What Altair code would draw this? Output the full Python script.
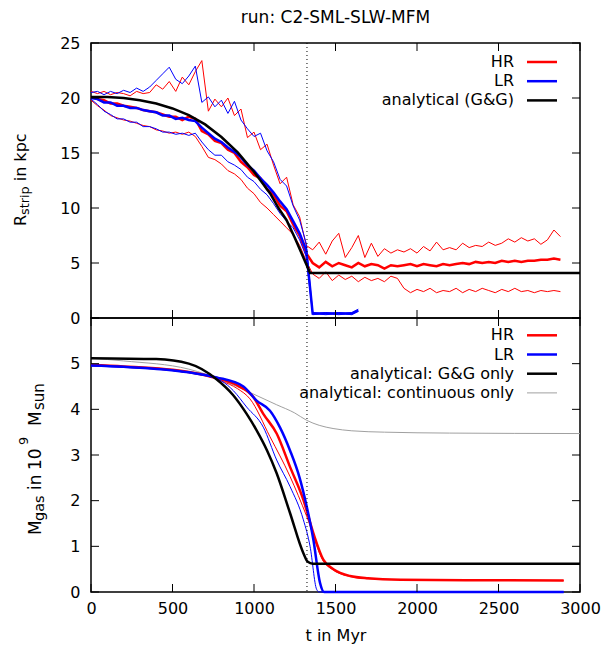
import altair as alt
import pandas as pd

FONT = "DejaVu Sans"
TITLE = "run: C2-SML-SLW-MFM"
X_TITLE = "t in Myr"
X_TICKS = [0, 500, 1000, 1500, 2000, 2500, 3000]
R_TICKS = [0, 5, 10, 15, 20, 25]
M_TICKS = [0, 1, 2, 3, 4, 5]
M_TICK_MARKS = [0, 1, 2, 3, 4, 5, 6]
T_CRIT = [1325]

# ---- top panel: stripping radius (kpc) ----
T_PRE = list(range(0, 1321, 40))
T_POST_HR = list(range(1360, 2881, 40))
T_POST_LR = list(range(1360, 1641, 40))

HR_UP_PRE = [20.6, 20.4, 20.6, 20.3, 20.5, 20.4, 20.2, 20.6, 20.4, 20.5,
             21.2, 20.8, 21.5, 20.6, 21.9, 21.2, 22.4, 23.4, 18.8, 19.9,
             19.2, 20.0, 18.4, 19.0, 16.4, 16.9, 15.3, 15.8, 13.9, 12.2,
             12.8, 10.3, 9.2, 6.6]
HR_MID_PRE = [20.1, 19.9, 19.8, 19.5, 19.5, 19.3, 19.2, 19.1, 18.9, 18.8,
              18.7, 18.5, 18.3, 18.3, 18.0, 18.3, 18.1, 17.0, 16.7, 16.1,
              15.9, 15.3, 15.0, 14.2, 13.7, 13.0, 12.7, 11.7, 11.2, 10.2,
              9.7, 8.5, 7.5, 5.9]
HR_LOW_PRE = [19.8, 19.3, 18.9, 18.4, 18.2, 18.0, 17.9, 17.7, 17.5, 17.4,
              17.1, 17.0, 16.8, 16.9, 16.7, 16.9, 16.5, 15.6, 14.6, 14.4,
              14.0, 13.4, 13.1, 12.6, 11.8, 11.3, 10.5, 10.0, 9.4, 8.8,
              8.2, 7.6, 6.6, 5.2]
HR_UP_POST = [6.2, 6.9, 5.8, 7.0, 7.7, 5.5, 6.4, 7.5, 5.5, 6.8,
              5.6, 6.3, 5.9, 6.2, 6.0, 6.3, 5.9, 6.5, 6.1, 6.9,
              6.2, 6.4, 6.2, 6.8, 6.4, 6.6, 6.5, 6.9, 6.6, 6.8,
              7.2, 6.9, 7.3, 7.0, 7.2, 6.7, 7.1, 8.0, 7.4]
HR_MID_POST = [5.0, 4.6, 5.1, 4.7, 5.0, 4.8, 4.6, 5.0, 4.7, 4.9,
               4.8, 4.5, 4.8, 4.7, 4.8, 4.9, 4.7, 4.9, 4.8, 4.7,
               4.9, 4.8, 4.9, 5.0, 4.9, 5.1, 5.0, 5.1, 5.0, 5.2,
               5.1, 5.2, 5.1, 5.2, 5.2, 5.3, 5.3, 5.4, 5.3]
HR_LOW_POST = [4.0, 3.6, 4.2, 3.4, 3.9, 3.5, 3.8, 3.3, 3.7, 3.4,
               3.6, 3.3, 3.8, 3.6, 2.7, 2.3, 2.6, 2.4, 2.7, 2.3,
               2.5, 2.4, 2.7, 2.3, 2.6, 2.4, 2.7, 2.5, 2.3, 2.6,
               2.4, 2.7, 2.4, 2.5, 2.3, 2.5, 2.4, 2.5, 2.4]

LR_UP_PRE = [20.5, 20.6, 20.3, 20.6, 20.4, 20.7, 20.5, 20.9, 20.6, 21.0,
             21.6, 22.2, 22.8, 21.7, 21.3, 22.0, 22.9, 19.6, 20.1, 19.2,
             19.8, 18.6, 19.7, 18.0, 17.2, 16.5, 16.8, 15.2, 14.2, 12.6,
             12.0, 10.2, 8.9, 6.8]
LR_MID_PRE = [20.0, 19.9, 19.6, 19.6, 19.3, 19.3, 19.1, 19.1, 18.9, 18.8,
              18.7, 18.4, 18.4, 18.1, 18.2, 18.0, 17.9, 17.3, 16.8, 16.3,
              16.0, 15.5, 15.1, 14.6, 13.9, 13.4, 12.7, 12.1, 11.4, 10.6,
              9.9, 8.8, 7.7, 6.2]
LR_LOW_PRE = [19.9, 19.4, 18.8, 18.5, 18.1, 18.1, 17.8, 17.8, 17.4, 17.4,
              17.2, 16.9, 16.9, 16.7, 16.8, 16.6, 16.8, 16.0, 15.3, 14.8,
              14.8, 14.2, 13.9, 13.5, 12.8, 12.4, 11.7, 11.2, 10.4, 9.5,
              8.8, 8.2, 7.1, 5.6]
LR_UP_POST = [0.5, 0.45, 0.5, 0.45, 0.5, 0.45, 0.5, 0.8]
LR_MID_POST = [0.4, 0.4, 0.4, 0.4, 0.4, 0.4, 0.4, 0.7]
LR_LOW_POST = [0.3, 0.35, 0.3, 0.35, 0.3, 0.35, 0.3, 0.6]

GG_T = [0, 100, 200, 300, 400, 500, 600, 700, 800, 900, 1000, 1100, 1150,
        1200, 1250, 1300, 1344, 3000]
GG_R = [20.1, 20.1, 20.0, 19.8, 19.5, 19.05, 18.45, 17.6, 16.45, 15.05, 13.3,
        11.3, 10.0, 8.9, 7.3, 5.6, 4.1, 4.1]

# ---- bottom panel: gas mass (1e9 Msun) ----
MG_GG_T = [0, 400, 600, 770, 870, 955, 1016, 1080, 1139, 1221, 1303, 1330, 1360, 3000]
MG_GG_M = [5.12, 5.10, 5.0, 4.66, 4.32, 3.9, 3.54, 3.1, 2.6, 1.73, 0.85, 0.66, 0.62, 0.62]
MG_CONT_T = [0, 200, 600, 810, 975, 1139, 1250, 1323, 1400, 1485, 1600, 1800, 2200, 3000]
MG_CONT_M = [5.12, 5.06, 4.88, 4.63, 4.37, 4.10, 3.92, 3.76, 3.65, 3.58, 3.53, 3.50, 3.48, 3.47]
MG_LR_T = [0, 200, 600, 770, 935, 1016, 1098, 1160, 1221, 1280, 1323, 1364, 1405, 1430, 2900]
MG_LR_M = [4.96, 4.93, 4.81, 4.70, 4.50, 4.19, 3.97, 3.6, 3.1, 2.5, 1.88, 1.15, 0.2, 0.0, 0.0]
MG_LR2_T = [0, 200, 600, 800, 873, 955, 1057, 1139, 1221, 1303, 1344, 1384, 1400, 2900]
MG_LR2_M = [4.95, 4.92, 4.80, 4.62, 4.41, 4.05, 3.61, 2.89, 2.31, 1.58, 1.0, 0.06, 0.0, 0.0]
MG_HR_T = [0, 200, 600, 800, 900, 996, 1057, 1139, 1221, 1303, 1364, 1425, 1487, 1589,
           1700, 1900, 2300, 2900]
MG_HR_M = [4.97, 4.94, 4.82, 4.66, 4.52, 4.27, 3.9, 3.47, 2.74, 2.02, 1.29, 0.71, 0.5, 0.35,
           0.3, 0.27, 0.26, 0.25]
MG_HR2_T = [0, 200, 600, 800, 900, 975, 1098, 1221, 1323, 1425, 1487, 1589, 1700, 1900,
            2300, 2900]
MG_HR2_M = [4.96, 4.93, 4.80, 4.62, 4.45, 4.23, 3.4, 2.53, 1.66, 0.68, 0.48, 0.34, 0.29,
            0.27, 0.26, 0.25]

LEG_TOP = ["HR", "LR", "analytical (G&G)"]
LEG_TOP_COL = ["#ff0000", "#0000ff", "#000000"]
LEG_BOT = ["HR", "LR", "analytical: G&G only", "analytical: continuous only"]
LEG_BOT_COL = ["#ff0000", "#0000ff", "#000000", "#a0a0a0"]

W, H1, H2 = 489, 275, 274
ONE = pd.DataFrame({"k": [0]})


def df(t, v):
    return pd.DataFrame({"t": t, "v": v})


def xenc(axis=None):
    return alt.X("t:Q", scale=alt.Scale(domain=[0, 3000], nice=False, zero=False), axis=axis)


def make_y(domain, ticks):
    ax = alt.Axis(values=ticks, ticks=False, tickSize=0, domain=False, grid=False,
                  title=None, labelPadding=11, labelFont=FONT, labelFontSize=16,
                  labelColor="black", labelFlush=False, labelOverlap=False)

    def yenc():
        return alt.Y("v:Q", scale=alt.Scale(domain=domain, nice=False, zero=False), axis=ax)
    return yenc


def line(data, color, width, yenc, xaxis, interp="linear"):
    return alt.Chart(data).mark_line(color=color, strokeWidth=width, interpolate=interp).encode(
        x=xenc(xaxis), y=yenc())


def text(s, x, y, size=16, angle=None, align="left", baseline="alphabetic"):
    kw = dict(font=FONT, fontSize=size, color="black", align=align, baseline=baseline)
    if angle is not None:
        kw["angle"] = angle
    return alt.Chart(ONE).mark_text(**kw).encode(
        x=alt.value(x), y=alt.value(y), text=alt.value(s))


def frame_ticks(yenc, yticks, h, xaxis):
    xt = pd.DataFrame({"t": X_TICKS})
    yt = pd.DataFrame({"v": yticks})
    return [
        alt.Chart(xt).mark_rule(color="black", strokeWidth=1).encode(
            x=xenc(xaxis), y=alt.value(0), y2=alt.value(8)),
        alt.Chart(xt).mark_rule(color="black", strokeWidth=1).encode(
            x=xenc(xaxis), y=alt.value(h), y2=alt.value(h - 8)),
        alt.Chart(yt).mark_rule(color="black", strokeWidth=1).encode(
            y=yenc(), x=alt.value(0), x2=alt.value(8)),
        alt.Chart(yt).mark_rule(color="black", strokeWidth=1).encode(
            y=yenc(), x=alt.value(W), x2=alt.value(W - 8)),
    ]


def legend(labels, colors, widths, y0, dy):
    out = []
    for i, (lab, col, wd) in enumerate(zip(labels, colors, widths)):
        y = y0 + i * dy
        out.append(text(lab, 423, y, align="right", baseline="middle"))
        out.append(alt.Chart(ONE).mark_rule(color=col, strokeWidth=wd).encode(
            x=alt.value(436), x2=alt.value(466), y=alt.value(y)))
    return out


def vline(xaxis):
    return alt.Chart(pd.DataFrame({"t": T_CRIT})).mark_rule(
        color="black", strokeWidth=1, strokeDash=[1, 3]).encode(x=xenc(xaxis))


# ----- top panel -----
yR = make_y([0, 25], R_TICKS)
top_x = None
RED, BLUE = "#ff0000", "#0000ff"
top_layers = [
    line(df(T_PRE + T_POST_HR, HR_UP_PRE + HR_UP_POST), RED, 1, yR, top_x),
    line(df(T_PRE + T_POST_HR, HR_LOW_PRE + HR_LOW_POST), RED, 1, yR, top_x),
    line(df(T_PRE + T_POST_HR, HR_MID_PRE + HR_MID_POST), RED, 2.5, yR, top_x),
    line(df(T_PRE + T_POST_LR, LR_UP_PRE + LR_UP_POST), BLUE, 1, yR, top_x),
    line(df(T_PRE + T_POST_LR, LR_LOW_PRE + LR_LOW_POST), BLUE, 1, yR, top_x),
    line(df(T_PRE + T_POST_LR, LR_MID_PRE + LR_MID_POST), BLUE, 2.5, yR, top_x),
    line(df(GG_T, GG_R), "#000000", 2.5, yR, top_x),
    vline(top_x),
] + frame_ticks(yR, R_TICKS, H1, top_x) + legend(LEG_TOP, LEG_TOP_COL, [2.5, 2.5, 2.5], 19, 19.2) + [
    text(TITLE, W / 2, -25, size=17, align="center", baseline="middle"),
    text("R", -65.5, 183, angle=270),
    text("strip", -62, 172, size=12.8, angle=270),
    text("in kpc", -65.5, 138.3, angle=270),
]
top = alt.layer(*top_layers).properties(width=W, height=H1)

# ----- bottom panel -----
yM = make_y([0, 6], M_TICKS)
bot_x = alt.Axis(values=X_TICKS, ticks=False, tickSize=0, domain=False, grid=False,
                 title=X_TITLE, labelPadding=8, labelFont=FONT, labelFontSize=16,
                 labelColor="black", labelFlush=False, format="d",
                 titleFont=FONT, titleFontSize=16,
                 titleFontWeight="normal", titleColor="black", titlePadding=11)
bot_layers = [
    line(df(MG_CONT_T, MG_CONT_M), "#a0a0a0", 1, yM, bot_x, "monotone"),
    line(df(MG_HR2_T, MG_HR2_M), RED, 1, yM, bot_x, "monotone"),
    line(df(MG_HR_T, MG_HR_M), RED, 2.5, yM, bot_x, "monotone"),
    line(df(MG_LR2_T, MG_LR2_M), BLUE, 1, yM, bot_x, "monotone"),
    line(df(MG_LR_T, MG_LR_M), BLUE, 2.5, yM, bot_x, "monotone"),
    line(df(MG_GG_T, MG_GG_M), "#000000", 2.5, yM, bot_x, "monotone"),
    vline(bot_x),
] + frame_ticks(yM, M_TICK_MARKS, H2, bot_x) + legend(
    LEG_BOT, LEG_BOT_COL, [2.5, 2.5, 2.5, 1], 17.3, 19.2) + [
    text("M", -50.5, 217, size=17, angle=270),
    text("gas", -47.5, 203, size=14.5, angle=270),
    text("in", -50.5, 172, size=17, angle=270),
    text("10", -50.5, 152, size=17, angle=270),
    text("9", -63, 127, size=13, angle=270),
    text("M", -50.5, 108, size=17, angle=270),
    text("sun", -47.5, 92, size=15, angle=270),
]
bottom = alt.layer(*bot_layers).properties(width=W, height=H2)

chart = alt.vconcat(top, bottom, spacing=0, bounds="flush").properties(
    padding={"left": 3, "top": 0, "right": 5, "bottom": 5}
).configure_view(stroke="black", strokeWidth=1.5).configure_concat(spacing=0)

chart.save("out.html", embed_options={"renderer": "svg", "actions": False})
